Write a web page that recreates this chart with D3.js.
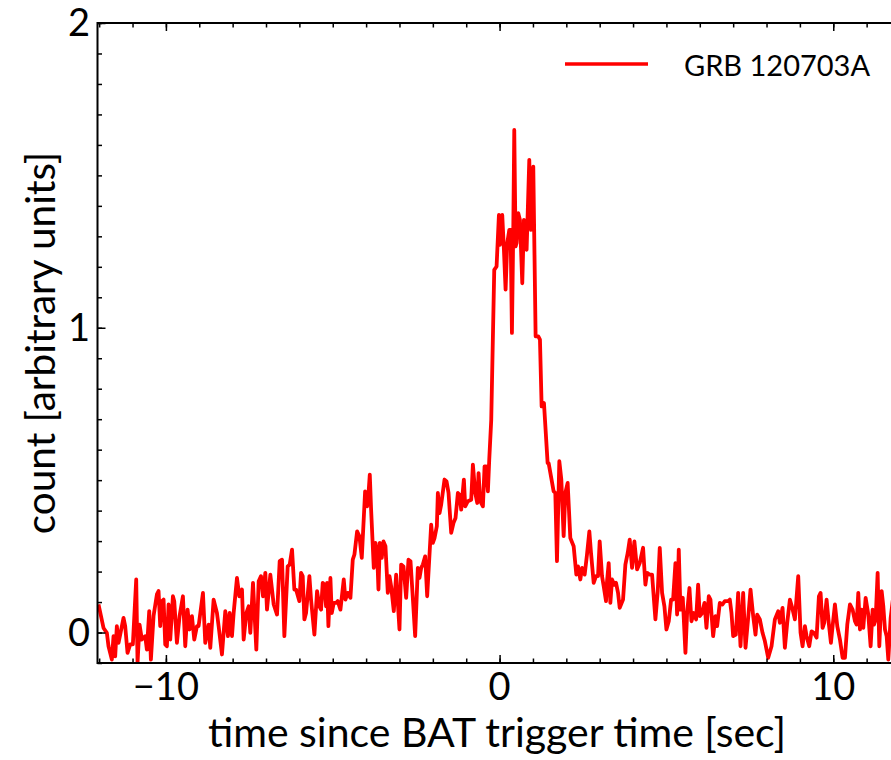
<html>
<head>
<script src="https://d3js.org/d3.v7.min.js"></script>
<style>
  body { margin: 0; background: #fff; }
  text { font-family: Lato, "Open Sans", sans-serif; fill: #000; }
</style>
</head>
<body>
<svg id="chart" width="891" height="760"></svg>
<script>
// light curve (time in s, count in arbitrary units)
var time = [
  -12.02,-11.87,-11.77,-11.72,-11.62,-11.57,-11.52,-11.47,-11.42,-11.37,-11.27,-11.22,-11.15,-11.07,-10.99,
  -10.89,-10.85,-10.79,-10.72,-10.62,-10.57,-10.50,-10.45,-10.37,-10.27,-10.22,-10.17,-10.12,-10.07,-10.02,
  -9.97,-9.92,-9.87,-9.79,-9.75,-9.67,-9.59,-9.49,-9.42,-9.35,-9.29,-9.22,-9.15,-9.07,-9.02,
  -8.89,-8.82,-8.72,-8.67,-8.57,-8.47,-8.42,-8.32,-8.22,-8.14,-8.09,-8.02,-7.97,-7.87,-7.80,
  -7.72,-7.67,-7.59,-7.52,-7.47,-7.39,-7.29,-7.22,-7.15,-7.09,-7.02,-6.97,-6.87,-6.77,-6.67,
  -6.59,-6.52,-6.45,-6.35,-6.29,-6.22,
  -6.15,-6.10,-6.00,-5.95,-5.90,-5.85,-5.80,-5.70,-5.65,-5.55,-5.47,-5.40,-5.35,-5.30,-5.25,
  -5.20,-5.17,-5.13,-5.07,-5.03,-4.97,-4.90,-4.85,-4.77,-4.67,-4.62,-4.55,-4.47,-4.40,-4.35,
  -4.27,-4.20,-4.13,-4.03,-3.97,-3.92,-3.89,-3.85,-3.77,-3.72,-3.67,-3.63,-3.59,-3.53,-3.48,
  -3.42,-3.35,-3.30,-3.25,-3.17,-3.10,-3.00,-2.95,-2.88,-2.80,-2.73,-2.67,-2.60,-2.53,-2.45,
  -2.40,-2.35,-2.30,-2.23,-2.17,-2.05,-2.00,-1.95,-1.88,-1.85,-1.80,-1.75,-1.65,-1.59,-1.53,
  -1.45,-1.38,-1.32,-1.25,-1.20,-1.15,-1.07,-1.03,-0.95,-0.85,-0.80,-0.73,-0.67,-0.63,-0.58,
  -0.50,-0.45,-0.40,-0.35,
  -0.31,-0.25,-0.16,-0.09,-0.02,0.01,0.08,0.13,0.18,0.23,0.29,0.33,0.37,0.41,0.44,
  0.48,0.51,0.56,0.61,0.68,0.73,0.81,0.89,0.94,1.01,1.08,1.16,1.21,1.26,1.33,1.44,1.47,
  1.62,1.67,1.72,1.79,1.85,1.92,1.97,2.04,2.12,2.22,2.30,2.35,2.42,2.47,2.55,
  2.62,2.69,2.74,2.82,2.89,2.95,3.00,3.07,3.12,3.19,3.22,3.27,3.32,3.37,3.44,
  3.49,3.55,3.60,3.70,3.77,3.84,3.90,3.97,4.04,4.12,4.20,4.30,4.37,4.42,4.49,
  4.57,4.67,4.74,4.80,4.87,4.94,5.00,5.07,5.14,5.20,5.27,5.32,5.37,5.42,5.49,
  5.57,5.62,5.69,5.75,5.82,5.89,5.95,6.00,6.07,6.14,6.20,6.27,6.32,6.40,6.47,
  6.52,6.60,
  6.68,6.75,6.85,6.90,6.95,7.00,7.08,7.15,7.22,7.30,7.37,7.45,7.52,7.60,7.67,
  7.72,7.80,7.88,7.95,8.05,8.15,8.25,8.35,8.40,8.48,8.55,8.62,8.70,8.77,8.85,
  8.95,9.02,9.08,9.15,9.20,9.28,9.35,9.42,9.50,9.57,9.62,9.68,9.73,9.80,9.87,
  9.93,9.98,10.05,10.12,10.20,10.28,10.35,10.42,10.50,10.58,10.65,10.70,10.75,10.80,10.85,
  10.90,10.97,11.05,11.12,11.18,11.22,11.27,11.33,11.38,11.45,11.50,11.55,11.60,11.65,11.72,
  11.80
];
var count = [
  0.092,0.015,-0.001,-0.045,-0.089,-0.012,-0.078,0.021,-0.034,-0.007,0.048,0.021,-0.067,-0.039,-0.039,
  0.174,-0.099,0.026,-0.023,-0.012,-0.056,0.070,-0.089,0.054,0.125,0.136,0.021,0.103,0.108,-0.039,
  -0.045,0.092,-0.023,0.119,0.103,-0.034,0.054,0.119,-0.045,0.075,0.010,0.054,-0.023,0.021,0.021,
  0.130,-0.034,0.026,-0.050,0.108,0.064,0.021,-0.072,0.070,-0.012,0.064,-0.012,0.064,0.179,0.119,
  0.141,-0.023,0.064,0.086,-0.001,0.163,-0.056,0.168,0.185,0.119,0.196,0.075,0.190,0.092,0.059,
  0.234,0.239,-0.012,0.217,0.223,0.272,
  0.141,0.141,0.103,0.196,0.185,0.043,0.064,0.185,0.108,-0.007,0.136,0.086,0.075,0.163,0.157,
  0.086,0.163,0.021,0.179,0.064,0.097,0.097,0.103,0.075,0.174,0.108,0.130,0.114,0.239,0.256,
  0.332,0.316,0.245,0.463,0.414,0.469,0.518,0.403,0.212,0.294,0.261,0.141,0.294,0.245,0.299,
  0.283,0.130,0.185,0.152,0.070,0.190,0.010,0.223,0.217,0.114,0.239,0.234,0.114,-0.012,0.212,
  0.179,0.212,0.223,0.250,0.119,0.354,0.294,0.310,0.349,0.458,0.392,0.420,0.502,0.496,0.458,
  0.327,0.360,0.376,0.458,0.452,0.403,0.502,0.414,0.431,0.436,0.551,0.458,0.425,0.523,0.431,
  0.414,0.545,0.545,0.463,
  0.567,0.698,1.190,1.201,1.370,1.272,1.370,1.256,1.125,1.278,1.321,1.321,0.983,1.321,1.649,
  1.267,1.278,1.376,1.354,1.146,1.354,1.256,1.551,1.321,1.529,0.972,0.972,0.961,0.742,0.753,0.556,0.556,
  0.463,0.458,0.234,0.562,0.502,0.316,0.458,0.491,0.310,0.283,0.190,0.217,0.174,0.212,0.190,
  0.256,0.332,0.261,0.163,0.185,0.185,0.299,0.185,0.152,0.103,0.168,0.228,0.097,0.174,0.157,
  0.163,0.130,0.081,0.108,0.223,0.261,0.305,0.212,0.299,0.207,0.228,0.278,0.157,0.196,0.190,
  0.190,0.043,0.136,0.278,0.130,0.086,0.010,0.037,0.108,0.108,0.228,0.059,0.272,0.075,0.114,
  -0.067,0.064,0.146,0.037,0.064,0.043,0.157,0.054,0.064,0.097,0.015,0.119,0.108,-0.012,0.054,
  0.021,0.097,
  0.092,0.103,0.103,0.108,0.064,-0.012,-0.007,0.130,-0.045,0.130,-0.050,0.048,0.141,0.054,-0.007,
  0.059,0.043,-0.001,-0.028,-0.083,-0.045,0.043,0.070,0.032,0.081,-0.050,0.032,0.108,0.081,0.043,
  0.185,-0.001,-0.045,0.021,-0.012,-0.045,0.004,-0.001,-0.017,0.119,0.130,0.015,0.032,0.108,0.026,
  -0.034,0.021,0.092,0.021,-0.023,-0.083,-0.083,0.026,0.092,0.075,0.037,0.026,0.130,0.010,0.075,
  0.015,0.114,0.059,-0.045,0.075,0.026,0.043,0.196,-0.045,0.136,0.086,0.010,-0.012,-0.089,0.048,
  0.120
];
var xMajor = [-10, 0, 10];
var yMajor = [0, 1, 2];
var seriesName = "GRB 120703A";

var svg = d3.select("#chart");
// plot box (right spine falls just past the picture edge)
var pLeft = 97.5, pRight = 900, pTop = 23, pBottom = 663;

var x = d3.scaleLinear().domain([-12.05, 12]).range([pLeft, pRight]);
var y = d3.scaleLinear().domain([-0.1, 2.0]).range([pBottom, pTop]);

svg.append("clipPath").attr("id", "clip")
  .append("rect").attr("x", pLeft).attr("y", pTop)
  .attr("width", pRight - pLeft).attr("height", pBottom - pTop);

var pts = time.map(function(t, i) { return [t, count[i]]; });
var line = d3.line().x(function(d) { return x(d[0]); }).y(function(d) { return y(d[1]); });

svg.append("path")
  .datum(pts)
  .attr("clip-path", "url(#clip)")
  .attr("d", line)
  .attr("fill", "none")
  .attr("stroke", "#ff0000")
  .attr("stroke-width", 3.8)
  .attr("stroke-linejoin", "round");

// axes: ticks pointing inward on all four sides
function fmt(d) { return d < 0 ? "\u2212" + Math.abs(d) : String(d); }

var xMinor = d3.range(-12, 13, 1);
var yMinor = d3.range(-1, 21, 1).map(function(d) { return d / 10; });

svg.append("g").attr("transform", "translate(0," + pBottom + ")")
  .call(d3.axisTop(x).tickValues(xMinor).tickSize(4.5).tickFormat(""));
svg.append("g").attr("transform", "translate(0," + pBottom + ")")
  .call(d3.axisTop(x).tickValues(xMajor).tickSize(8).tickFormat(""));
svg.append("g").attr("transform", "translate(0," + pTop + ")")
  .call(d3.axisBottom(x).tickValues(xMinor).tickSize(4.5).tickFormat(""));
svg.append("g").attr("transform", "translate(0," + pTop + ")")
  .call(d3.axisBottom(x).tickValues(xMajor).tickSize(8).tickFormat(""));

svg.append("g").attr("transform", "translate(" + pLeft + ",0)")
  .call(d3.axisRight(y).tickValues(yMinor).tickSize(4.5).tickFormat(""));
svg.append("g").attr("transform", "translate(" + pLeft + ",0)")
  .call(d3.axisRight(y).tickValues(yMajor).tickSize(8).tickFormat(""));
svg.append("g").attr("transform", "translate(" + pRight + ",0)")
  .call(d3.axisLeft(y).tickValues(yMinor).tickSize(4.5).tickFormat(""));
svg.append("g").attr("transform", "translate(" + pRight + ",0)")
  .call(d3.axisLeft(y).tickValues(yMajor).tickSize(8).tickFormat(""));

svg.selectAll(".domain").remove();
svg.selectAll(".tick line").attr("stroke", "#000").attr("stroke-width", 1.5);

svg.append("rect")
  .attr("x", pLeft).attr("y", pTop)
  .attr("width", pRight - pLeft).attr("height", pBottom - pTop)
  .attr("fill", "none").attr("stroke", "#000").attr("stroke-width", 2);

// tick labels
svg.selectAll(".xlab").data(xMajor).enter().append("text")
  .attr("x", function(d) { return x(d); })
  .attr("y", 700)
  .attr("text-anchor", "middle")
  .attr("font-size", 38)
  .text(fmt);

svg.selectAll(".ylab").data(yMajor).enter().append("text")
  .attr("x", 90)
  .attr("y", function(d) { return y(d) + 13; })
  .attr("text-anchor", "end")
  .attr("font-size", 38)
  .text(fmt);

// axis titles
svg.append("text")
  .attr("x", 497).attr("y", 747)
  .attr("text-anchor", "middle")
  .attr("font-size", 41)
  .text("time since BAT trigger time [sec]");

svg.append("text")
  .attr("transform", "translate(55,343) rotate(-90)")
  .attr("text-anchor", "middle")
  .attr("font-size", 40.5)
  .text("count [arbitrary units]");

// legend
svg.append("line")
  .attr("x1", 565).attr("x2", 648).attr("y1", 64).attr("y2", 64)
  .attr("stroke", "#ff0000").attr("stroke-width", 3.5);
svg.append("text")
  .attr("x", 684).attr("y", 76)
  .attr("font-size", 29)
  .text(seriesName);
</script>
</body>
</html>
